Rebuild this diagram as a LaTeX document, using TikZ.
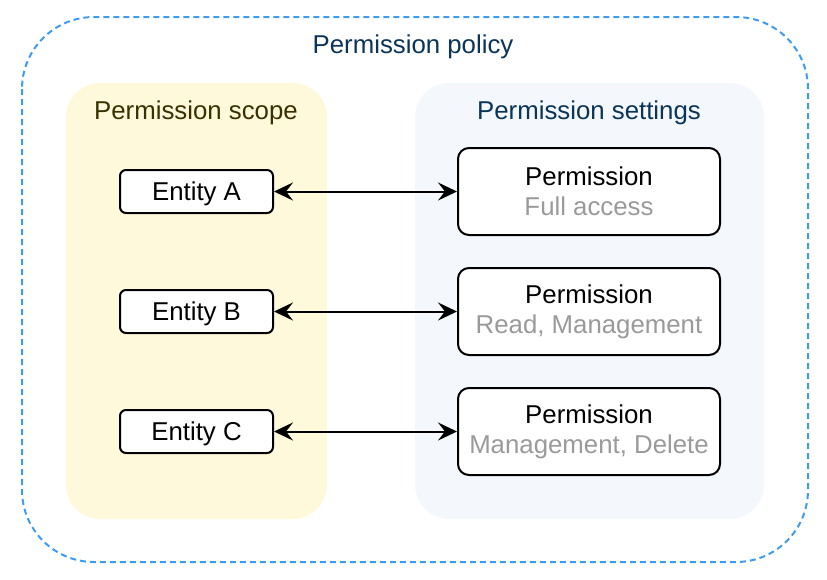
\documentclass[tikz,border=0pt]{standalone}
\usepackage{fontspec}
\setmainfont{Liberation Sans}
\usetikzlibrary{arrows.meta}
\definecolor{policyblue}{HTML}{3D9CF0}
\definecolor{navytext}{HTML}{0B3558}
\definecolor{olivetext}{HTML}{3A3000}
\definecolor{scopefill}{HTML}{FFF9DB}
\definecolor{setfill}{HTML}{F4F7FC}
\definecolor{greytext}{HTML}{9A9A9A}
\tikzset{
  bigfont/.style={font=\fontsize{25.8}{30}\selectfont},
  entitybox/.style={draw=black, line width=2pt, rounded corners=6pt, fill=white,
    minimum width=153pt, minimum height=43pt, inner sep=0pt, text height=18.5pt, text depth=0pt, bigfont},
  permbox/.style={draw=black, line width=2pt, rounded corners=11pt, fill=white,
    minimum width=262pt, minimum height=87pt, inner sep=0pt, align=center, bigfont},
  link/.style={line width=2pt, {Stealth[length=19pt,width=18pt,inset=7pt]}-{Stealth[length=19pt,width=18pt,inset=7pt]}},
  titletext/.style={bigfont, inner sep=0pt}
}
\begin{document}
\begin{tikzpicture}[x=1pt,y=-1pt]
\useasboundingbox (0,0) rectangle (827,579);
% outer policy
\draw[policyblue, line width=2pt, dash pattern=on 6pt off 4pt, rounded corners=72pt] (22,17) rectangle (808,562);
\node[titletext, text=navytext] (policytitle) at (413,46.5) {Permission policy};
% scope
\fill[scopefill, rounded corners=34pt] (66,83) rectangle (327,519);
\node[titletext, text=olivetext] (scopetitle) at (196,112.5) {Permission scope};
% settings
\fill[setfill, rounded corners=34pt] (415,83) rectangle (764,519);
\node[titletext, text=navytext] (settitle) at (589,112.5) {Permission settings};
% entities
\node[entitybox] (ea) at (196.5,191.5) {Entity A};
\node[entitybox] (eb) at (196.5,311.5) {Entity B};
\node[entitybox] (ec) at (196.5,431.5) {Entity C};
% permissions
\node[permbox] (pa) at (589,191.5) {Permission\\\textcolor{greytext}{Full access}};
\node[permbox] (pb) at (589,311.5) {Permission\\\textcolor{greytext}{Read, Management}};
\node[permbox] (pc) at (589,431.5) {Permission\\\textcolor{greytext}{Management, Delete}};
% links
\draw[link] (ea) -- (pa);
\draw[link] (eb) -- (pb);
\draw[link] (ec) -- (pc);
\end{tikzpicture}
\end{document}
